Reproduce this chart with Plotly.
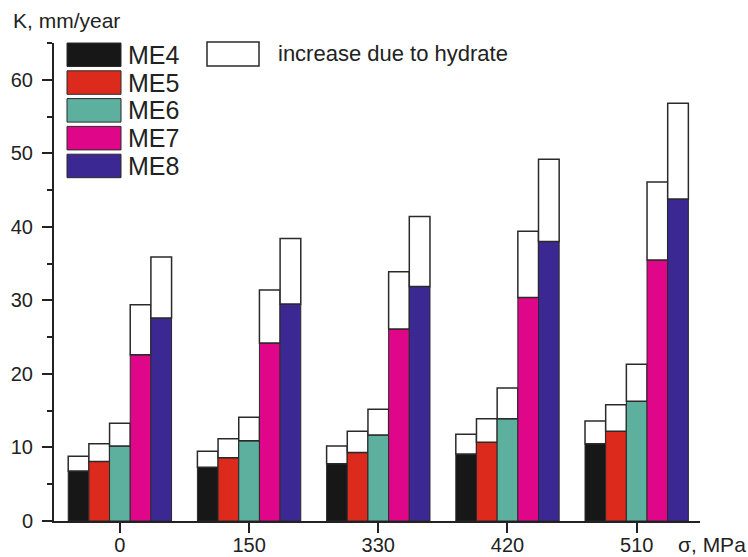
import plotly.graph_objects as go

# ---- data ----
stress_labels = ["0", "150", "330", "420", "510"]
series_names = ["ME4", "ME5", "ME6", "ME7", "ME8"]
series_colors = ["#171717", "#dc2b1c", "#5db09e", "#e0068a", "#3b2893"]

# corrosion rate without hydrate (solid part)
k_base = {
    "ME4": [6.8, 7.3, 7.8, 9.1, 10.5],
    "ME5": [8.1, 8.6, 9.3, 10.7, 12.2],
    "ME6": [10.2, 10.9, 11.7, 13.9, 16.3],
    "ME7": [22.6, 24.2, 26.1, 30.4, 35.5],
    "ME8": [27.6, 29.5, 31.9, 38.0, 43.8],
}
# corrosion rate with hydrate (total height)
k_total = {
    "ME4": [8.8, 9.5, 10.2, 11.8, 13.6],
    "ME5": [10.5, 11.2, 12.2, 13.9, 15.8],
    "ME6": [13.3, 14.1, 15.2, 18.1, 21.3],
    "ME7": [29.4, 31.4, 33.9, 39.4, 46.1],
    "ME8": [35.9, 38.4, 41.4, 49.2, 56.8],
}
hydrate_label = "increase due to hydrate"
y_title = "K, mm/year"
x_title = "σ, MPa"

# ---- layout geometry ----
FIG_W, FIG_H = 748, 557
M_L, M_R, M_T, M_B = 54, 48, 43, 36
PW = FIG_W - M_L - M_R
PH = FIG_H - M_T - M_B


def pxx(x):
    return (x - M_L) / PW


def pxy(y):
    return (FIG_H - M_B - y) / PH


FONT = "Arial, Liberation Sans, sans-serif"
BAR_W = 0.16
n = len(series_names)

fig = go.Figure()
for i, name in enumerate(series_names):
    off = -BAR_W * n / 2 + i * BAR_W
    base_vals = k_base[name]
    inc_vals = [t - b for t, b in zip(k_total[name], base_vals)]
    fig.add_trace(go.Bar(
        x=stress_labels, y=base_vals, name=name,
        width=BAR_W, offset=off,
        marker=dict(color=series_colors[i], line=dict(color="#2a2a2a", width=1)),
        showlegend=False,
    ))
    fig.add_trace(go.Bar(
        x=stress_labels, y=inc_vals, base=base_vals, name=hydrate_label,
        width=BAR_W, offset=off,
        marker=dict(color="white", line=dict(color="#2a2a2a", width=1.5)),
        showlegend=False,
    ))

fig.update_layout(
    width=FIG_W, height=FIG_H,
    margin=dict(l=M_L, r=M_R, t=M_T, b=M_B, autoexpand=False),
    barmode="overlay",
    paper_bgcolor="white", plot_bgcolor="white",
    font=dict(family=FONT, color="#222", size=20),
)
fig.update_xaxes(
    type="category", range=[-0.51, 4.49], automargin=False,
    showline=True, linecolor="#222", linewidth=2,
    ticks="outside", ticklen=10, tickwidth=2, tickcolor="#222",
    ticklabelstandoff=-5,
    tickfont=dict(size=20), showgrid=False, zeroline=False,
)
fig.update_yaxes(
    range=[0, 65], tickvals=[0, 10, 20, 30, 40, 50, 60], automargin=False,
    showline=True, linecolor="#222", linewidth=2,
    ticks="outside", ticklen=10, tickwidth=2, tickcolor="#222",
    ticklabelstandoff=5,
    minor=dict(tickvals=[5, 15, 25, 35, 45, 55, 65], ticks="outside", ticklen=5, tickwidth=2, tickcolor="#222"),
    tickfont=dict(size=20), showgrid=False, zeroline=False,
)

shapes = []
annotations = []
# legend for series
box_x0, box_x1 = 67, 121
for i, name in enumerate(series_names):
    y0 = 43 + i * 27.8
    y1 = y0 + 23.5
    shapes.append(dict(type="rect", xref="paper", yref="paper",
                       x0=pxx(box_x0), x1=pxx(box_x1), y0=pxy(y1), y1=pxy(y0),
                       fillcolor=series_colors[i], line=dict(color="#2a2a2a", width=1)))
    annotations.append(dict(xref="paper", yref="paper", x=pxx(126), y=pxy((y0 + y1) / 2),
                            text=name, showarrow=False, xanchor="left", yanchor="middle",
                            font=dict(size=25, family=FONT, color="#222")))
# legend for hydrate increase
shapes.append(dict(type="rect", xref="paper", yref="paper",
                   x0=pxx(207), x1=pxx(259), y0=pxy(66), y1=pxy(42),
                   fillcolor="white", line=dict(color="#2a2a2a", width=1.5)))
annotations.append(dict(xref="paper", yref="paper", x=pxx(276), y=pxy(54),
                        text=hydrate_label, showarrow=False, xanchor="left", yanchor="middle",
                        font=dict(size=22, family=FONT, color="#222")))
# axis titles
annotations.append(dict(xref="paper", yref="paper", x=pxx(11), y=pxy(20),
                        text=y_title, showarrow=False, xanchor="left", yanchor="middle",
                        font=dict(size=21, family=FONT, color="#222")))
annotations.append(dict(xref="paper", yref="paper", x=pxx(676), y=pxy(544),
                        text=x_title, showarrow=False, xanchor="left", yanchor="middle",
                        font=dict(size=21, family=FONT, color="#222")))

fig.update_layout(shapes=shapes, annotations=annotations)
fig.write_html("out.html", config={"displayModeBar": False},
               post_script="document.body.style.margin='0';")
